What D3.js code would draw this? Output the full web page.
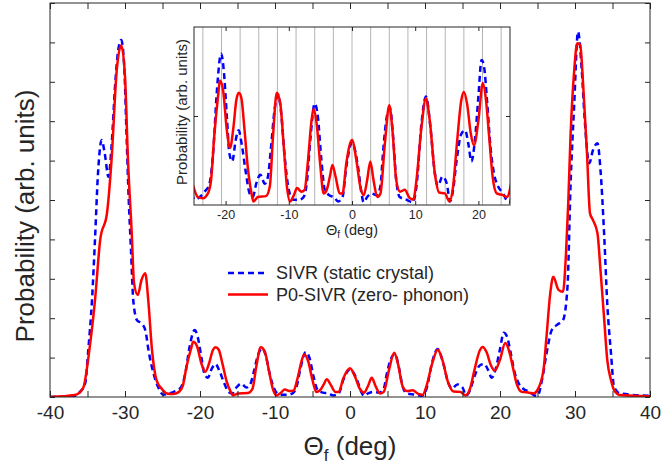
<!DOCTYPE html>
<html>
<head>
<meta charset="utf-8">
<script src="https://d3js.org/d3.v7.min.js"></script>
<style>
  body { margin: 0; background: #fff; }
  svg { display: block; font-family: "Liberation Sans", Arial, Helvetica, sans-serif; }
  text { fill: #262626; }
</style>
</head>
<body>
<main></main>
<script>

// Datos (ángulo en grados, probabilidad en unidades arbitrarias)

// SIVR (cristal estático), curva azul discontinua
const sivrTheta = [-40, -36.7, -36, -35.3, -34.9, -34.4, -34, -33.6, -33.1, -32.7, -32.2, -31.8, -31.3, -30.9, -30.5,
    -30.1, -29.8, -29.5, -29.2, -28.9, -28.4, -27.8, -27.3, -26.8, -26.2, -25.6, -24.9, -24.1, -23.3, -22.55,
    -21.9, -21.4, -20.7, -20.3, -19.8, -19.4, -18.95, -18.4, -17.95, -17.4, -16.85, -16.2, -15.7, -15.15, -14.5,
    -13.8, -13.3, -12.8, -12.25, -11.7, -11.2, -10.7, -10, -9.35, -8.3, -7.65, -7.1, -6.6, -5.9, -5.4,
    -4.85, -4.3, -3.6, -2.9, -2.2, -1.5, -0.9, 0, 0.95, 1.5, 1.85, 2.4, 3.1, 3.9, 4.5,
    4.9, 5.5, 6, 6.5, 7, 7.55, 8.6, 9.6, 10.2, 11, 11.7, 12.4, 13.1, 13.6, 14.3,
    15, 15.5, 16, 16.5, 17.3, 17.9, 18.4, 18.9, 19.45, 20, 20.5, 20.9, 21.4, 21.9, 22.45,
    23.1, 23.9, 24.6, 25, 25.6, 26.2, 26.9, 27.6, 28.4, 29, 29.4, 29.9, 30.4, 30.9, 31.3,
    31.9, 32.4, 33, 33.4, 33.9, 34.3, 34.8, 35.2, 36, 40];
const sivrProb = [0, 0.03, 0.13, 0.35, 1.19, 2.46, 4.0, 5.68, 6.52, 6.18, 5.59, 6.35, 7.96, 8.81, 9.06,
    8.38, 6.69, 5.0, 3.73, 2.46, 1.95, 1.87, 1.7, 1.11, 0.6, 0.26, 0.06, 0.09, 0.15, 0.24,
    0.66, 1.26, 1.70, 1.52, 0.99, 0.58, 0.49, 0.73, 0.84, 0.66, 0.39, 0.13, 0.09, 0.24, 0.34,
    0.24, 0.32, 0.66, 1.07, 1.24, 1.03, 0.58, 0.17, 0.06, 0.06, 0.09, 0.28, 0.73, 1.14, 0.99,
    0.51, 0.17, 0.11, 0.09, 0.04, 0.09, 0.43, 0.70, 0.43, 0.13, 0.03, 0.09, 0.13, 0.11, 0.21,
    0.58, 0.99, 1.09, 0.77, 0.28, 0.09, 0.06, 0.03, 0.21, 0.92, 1.22, 0.88, 0.36, 0.21, 0.32,
    0.24, 0.04, 0.17, 0.47, 0.8, 0.84, 0.69, 0.49, 0.73, 1.22, 1.63, 1.55, 1.14, 0.66, 0.36,
    0.21, 0.13, 0.04, 0.03, 0.43, 1.1, 1.7, 1.83, 1.95, 2.8, 5.34, 7.45, 9.27, 8.3, 7.03,
    5.93, 6.27, 6.44, 5.76, 4.07, 2.38, 1.11, 0.26, 0.09, 0.03];

// P0-SIVR (cero fonones), curva roja continua
const p0Theta = [-40, -36.7, -35.6, -34.7, -34, -33.3, -32.4, -31.8, -31.1, -30.5, -30, -29.6, -29.1, -28.8, -28.3,
    -27.8, -27.3, -26.9, -26.4, -25.8, -25.1, -24.4, -23.6, -22.8, -22.3, -21.8, -21.2, -20.9, -20.4, -19.8,
    -19.3, -18.75, -18.3, -17.9, -17.5, -17, -16.5, -15.9, -15.6, -14.9, -13.6, -13, -12.5, -11.9, -11.35,
    -10.8, -10.3, -9.8, -9.2, -8.7, -8, -7.5, -7, -6.4, -6.1, -5.6, -5, -4.5, -4, -3.5,
    -3.1, -2.6, -1.95, -1.5, -0.9, 0, 0.7, 1.3, 1.85, 2.4, 2.9, 3.4, 4, 4.5, 5.2,
    5.9, 6.4, 7, 7.6, 8.35, 9.1, 9.7, 10.2, 11, 11.7, 12.3, 13.1, 13.8, 14.7, 15.4,
    16, 16.6, 17.3, 17.7, 18.2, 18.8, 19.3, 20, 20.7, 21.2, 21.7, 22.25, 22.9, 23.9, 24.5,
    25, 25.8, 26.2, 26.7, 27.1, 27.8, 28.4, 28.8, 29.1, 29.4, 29.9, 30.3, 30.7, 31.1, 31.6,
    32, 32.4, 33, 33.4, 33.9, 34.3, 34.8, 35.2, 36, 40];
const p0Prob = [0, 0.05, 0.22, 1.27, 2.46, 4.0, 4.67, 6.0, 8.3, 8.93, 8.13, 6.0, 4.15, 2.89, 2.59,
    2.97, 3.14, 2.46, 1.19, 0.43, 0.21, 0.09, 0.075, 0.13, 0.28, 0.77, 1.22, 1.40, 1.29, 0.84,
    0.64, 0.88, 1.18, 1.26, 1.2, 0.84, 0.43, 0.13, 0.04, 0.09, 0.1, 0.21, 0.77, 1.26, 1.14,
    0.66, 0.21, 0.04, 0.11, 0.19, 0.15, 0.17, 0.47, 0.95, 1.08, 0.92, 0.43, 0.13, 0.17, 0.32,
    0.45, 0.32, 0.13, 0.13, 0.47, 0.73, 0.5, 0.21, 0.11, 0.28, 0.49, 0.28, 0.09, 0.13, 0.69,
    1.12, 0.84, 0.28, 0.15, 0.17, 0.08, 0.06, 0.28, 0.88, 1.2, 0.95, 0.36, 0.14, 0.13, 0.04,
    0.21, 0.69, 1.18, 1.27, 1.14, 0.8, 0.67, 0.95, 1.37, 1.18, 0.77, 0.32, 0.13, 0.11, 0.09,
    0.18, 0.69, 1.53, 2.63, 3.05, 2.72, 2.67, 3.65, 4.92, 6.61, 8.3, 8.98, 8.93, 7.88, 6.18,
    4.66, 4.49, 4.15, 3.22, 1.95, 0.94, 0.43, 0.18, 0.05, 0.02];

// Líneas verticales grises del recuadro (posiciones de los canales)
const gridTheta = [-23.6, -20.65, -17.7, -14.75, -11.8, -8.85, -5.9, -2.95, 0, 2.95, 5.9, 8.85, 11.8, 14.75, 17.7, 20.65, 23.6];

// Ticks
const xTicksMain = d3.range(-40, 41, 5);
const yTicksMain = d3.range(0, 11, 1);
const xTicksInset = [-20, -10, 0, 10, 20];
const yTicksInset = [1];

const legendItems = [
    { text: 'SIVR (static crystal)', color: '#0000ff', dash: '6,4' },
    { text: 'P0-SIVR (zero- phonon)', color: '#ff0000', dash: null }
];

//Une ángulo y probabilidad en objetos
const sivr = sivrTheta.map((t, i) => ({ t: t, p: sivrProb[i] }));
const p0 = p0Theta.map((t, i) => ({ t: t, p: p0Prob[i] }));

const [w, h] = [661, 466];
const ejeColor = '#262626';

const svg = d3.select('main')
    .append('svg')
    .attr('width', w)
    .attr('height', h);

//Área del gráfico principal
const main = { left: 50, right: 650, top: 3, bottom: 397 };

const xScale = d3.scaleLinear().domain([-40, 40]).range([main.left, main.right]);
const yScale = d3.scaleLinear().domain([0, 10]).range([main.bottom, main.top]);

svg.append('clipPath').attr('id', 'clipMain')
    .append('rect')
    .attr('x', main.left).attr('y', main.top)
    .attr('width', main.right - main.left).attr('height', main.bottom - main.top);

//Curvas principales
function dibujarCurvas(g, xs, ys, clip) {
    const linea = d3.line()
        .x(d => xs(d.t))
        .y(d => ys(d.p))
        .curve(d3.curveMonotoneX);

    g.append('path')
        .datum(sivr)
        .attr('clip-path', 'url(#' + clip + ')')
        .attr('d', linea)
        .attr('fill', 'none')
        .attr('stroke', '#0000ff')
        .attr('stroke-width', 2.5)
        .attr('stroke-dasharray', '6,4');

    g.append('path')
        .datum(p0)
        .attr('clip-path', 'url(#' + clip + ')')
        .attr('d', linea)
        .attr('fill', 'none')
        .attr('stroke', '#ff0000')
        .attr('stroke-width', 2.5);
}

dibujarCurvas(svg.append('g'), xScale, yScale, 'clipMain');

//Ejes principales (ticks hacia dentro)
svg.append('g')
    .attr('transform', 'translate(0,' + main.bottom + ')')
    .call(d3.axisBottom(xScale).tickValues(xTicksMain).tickSize(-6).tickPadding(9)
        .tickFormat(d => d % 10 === 0 ? String(d) : ''))
    .call(g => g.select('.domain').remove())
    .call(g => g.selectAll('line').attr('stroke', ejeColor))
    .call(g => g.selectAll('text').attr('font-size', 19).attr('fill', ejeColor)
        .style('font-family', '"Liberation Sans", Arial, sans-serif'));

svg.append('g')
    .attr('transform', 'translate(0,' + main.top + ')')
    .call(d3.axisTop(xScale).tickValues(xTicksMain).tickSize(-6).tickFormat(''))
    .call(g => g.select('.domain').remove())
    .call(g => g.selectAll('line').attr('stroke', ejeColor));

svg.append('g')
    .attr('transform', 'translate(' + main.left + ',0)')
    .call(d3.axisLeft(yScale).tickValues(yTicksMain).tickSize(-5).tickFormat(''))
    .call(g => g.select('.domain').remove())
    .call(g => g.selectAll('line').attr('stroke', ejeColor));

svg.append('g')
    .attr('transform', 'translate(' + main.right + ',0)')
    .call(d3.axisRight(yScale).tickValues(yTicksMain).tickSize(-5).tickFormat(''))
    .call(g => g.select('.domain').remove())
    .call(g => g.selectAll('line').attr('stroke', ejeColor));

svg.append('rect')
    .attr('x', main.left).attr('y', main.top)
    .attr('width', main.right - main.left).attr('height', main.bottom - main.top)
    .attr('fill', 'none')
    .attr('stroke', ejeColor)
    .attr('stroke-width', 1);

//Títulos de ejes
const tituloX = svg.append('text')
    .attr('x', 350).attr('y', 455)
    .attr('text-anchor', 'middle')
    .attr('font-size', 26);
tituloX.append('tspan').text('\u0398');
tituloX.append('tspan').attr('font-size', 17).attr('dy', 6).text('f');
tituloX.append('tspan').attr('dy', -6).text(' (deg)');

svg.append('text')
    .attr('transform', 'translate(34,216) rotate(-90)')
    .attr('text-anchor', 'middle')
    .attr('font-size', 26)
    .text('Probability (arb. units)');

//Leyenda
legendItems.forEach((s, i) => {
    const y = 273 + i * 21.5;
    svg.append('line')
        .attr('x1', 228).attr('x2', 268)
        .attr('y1', y).attr('y2', y)
        .attr('stroke', s.color)
        .attr('stroke-width', 2.5)
        .attr('stroke-dasharray', s.dash);
    svg.append('text')
        .attr('x', 276).attr('y', y)
        .attr('dy', '0.35em')
        .attr('font-size', 18)
        .text(s.text);
});

//Recuadro (inset)
const ins = { left: 194, right: 510, top: 27, bottom: 205 };

const xIns = d3.scaleLinear().domain([-25, 25]).range([ins.left, ins.right]);
const yIns = d3.scaleLinear().domain([0, 2]).range([ins.bottom, ins.top]);

svg.append('clipPath').attr('id', 'clipIns')
    .append('rect')
    .attr('x', ins.left).attr('y', ins.top)
    .attr('width', ins.right - ins.left).attr('height', ins.bottom - ins.top);

svg.append('rect')
    .attr('x', ins.left).attr('y', ins.top)
    .attr('width', ins.right - ins.left).attr('height', ins.bottom - ins.top)
    .attr('fill', '#fff');

svg.append('g')
    .selectAll('line')
    .data(gridTheta)
    .enter()
    .append('line')
    .attr('x1', d => xIns(d)).attr('x2', d => xIns(d))
    .attr('y1', ins.top).attr('y2', ins.bottom)
    .attr('stroke', '#b4b4b4')
    .attr('stroke-width', 1);

dibujarCurvas(svg.append('g'), xIns, yIns, 'clipIns');

svg.append('g')
    .attr('transform', 'translate(0,' + ins.bottom + ')')
    .call(d3.axisBottom(xIns).tickValues(xTicksInset).tickSize(-4).tickPadding(5)
        .tickFormat(d => String(d)))
    .call(g => g.select('.domain').remove())
    .call(g => g.selectAll('line').attr('stroke', ejeColor))
    .call(g => g.selectAll('text').attr('font-size', 12.5).attr('fill', ejeColor)
        .style('font-family', '"Liberation Sans", Arial, sans-serif'));

svg.append('g')
    .attr('transform', 'translate(0,' + ins.top + ')')
    .call(d3.axisTop(xIns).tickValues(xTicksInset).tickSize(-4).tickFormat(''))
    .call(g => g.select('.domain').remove())
    .call(g => g.selectAll('line').attr('stroke', ejeColor));

svg.append('g')
    .attr('transform', 'translate(' + ins.left + ',0)')
    .call(d3.axisLeft(yIns).tickValues(yTicksInset).tickSize(-4).tickFormat(''))
    .call(g => g.select('.domain').remove())
    .call(g => g.selectAll('line').attr('stroke', ejeColor));

svg.append('g')
    .attr('transform', 'translate(' + ins.right + ',0)')
    .call(d3.axisRight(yIns).tickValues(yTicksInset).tickSize(-4).tickFormat(''))
    .call(g => g.select('.domain').remove())
    .call(g => g.selectAll('line').attr('stroke', ejeColor));

svg.append('rect')
    .attr('x', ins.left).attr('y', ins.top)
    .attr('width', ins.right - ins.left).attr('height', ins.bottom - ins.top)
    .attr('fill', 'none')
    .attr('stroke', ejeColor)
    .attr('stroke-width', 1);

const tituloXIns = svg.append('text')
    .attr('x', 352).attr('y', 235)
    .attr('text-anchor', 'middle')
    .attr('font-size', 14.5);
tituloXIns.append('tspan').text('\u0398');
tituloXIns.append('tspan').attr('font-size', 10).attr('dy', 3).text('f');
tituloXIns.append('tspan').attr('dy', -3).text(' (deg)');

svg.append('text')
    .attr('transform', 'translate(182,112) rotate(-90)')
    .attr('text-anchor', 'middle')
    .attr('dy', '0.35em')
    .attr('font-size', 15)
    .text('Probability (arb. units)');

</script>
</body>
</html>
